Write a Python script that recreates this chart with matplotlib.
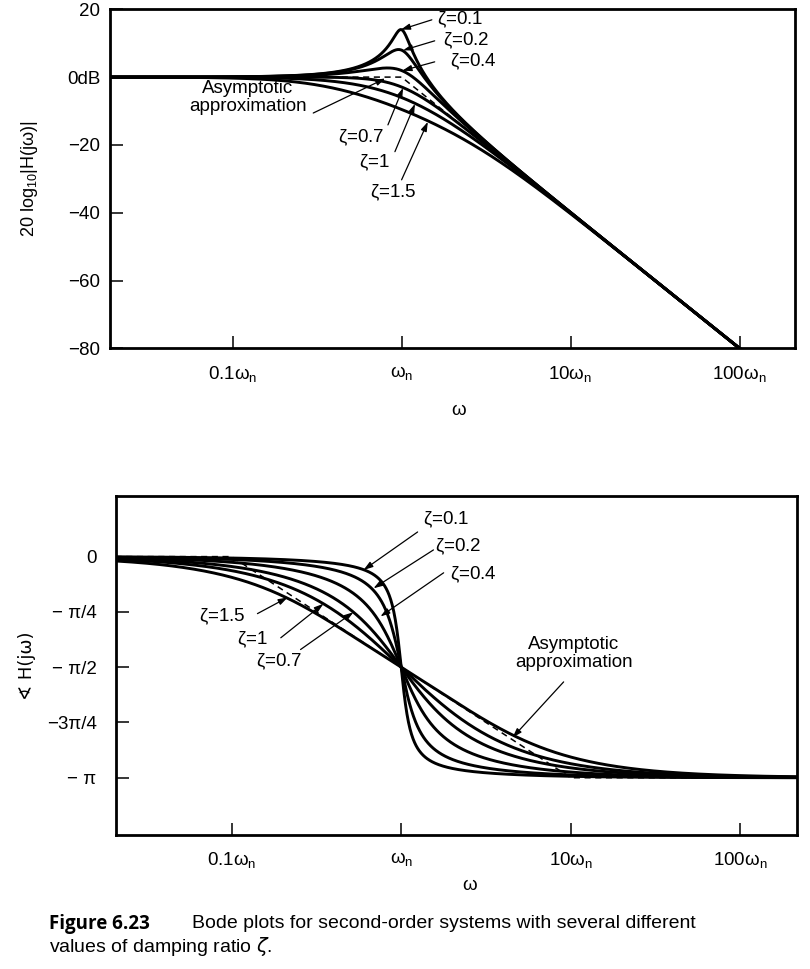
import numpy as np
from matplotlib import pyplot as plt

# damping ratios and labels
zetas = [0.1, 0.2, 0.4, 0.7, 1.0, 1.5]
zeta_labels = [r'$\zeta$=0.1', r'$\zeta$=0.2', r'$\zeta$=0.4',
               r'$\zeta$=0.7', r'$\zeta$=1', r'$\zeta$=1.5']

# straight-line approximations (break points)
asym_mag_w = [0.01, 1.0, 1000.0]
asym_mag_db = [0.0, 0.0, -120.0]
asym_ph_w = [0.01, 0.1, 10.0, 1000.0]
asym_ph = [0.0, 0.0, -np.pi, -np.pi]

xticks = [0.1, 1, 10, 100]
xtick_labels = [r'0.1$\omega_n$', r'$\omega_n$', r'10$\omega_n$', r'100$\omega_n$']
mag_ticks = [20, 0, -20, -40, -60, -80]
mag_tick_labels = ['20', '0dB', '\u221220', '\u221240', '\u221260', '\u221280']
ph_ticks = [0, -np.pi / 4, -np.pi / 2, -3 * np.pi / 4, -np.pi]
ph_tick_labels = ['0', '\u2212 \u03c0/4', '\u2212 \u03c0/2', '\u22123\u03c0/4', '\u2212 \u03c0']

# annotation positions (omega/omega_n, value)
mag_text = [(1.62, 16.9), (1.75, 10.8), (1.93, 4.5), (0.574, -17.9), (0.687, -25.3), (0.889, -34.2)]
mag_text_ha = ['left', 'left', 'left', 'center', 'center', 'center']
mag_arrow_from = [(1.51, 16.9), (1.57, 10.7), (1.57, 4.5), (0.83, -14.1), (0.913, -22.0), (1.0, -30.3)]
mag_arrow_to = [(0.99, 14.0), (1.02, 7.9), (1.01, 1.9), (1.02, -3.2), (1.2, -7.9), (1.43, -13.2)]
mag_asym_text = (0.123, -6.0)
mag_asym_from = (0.30, -10.6)
mag_asym_to = (0.80, -0.4)

ph_text = [(1.354, 0.52), (1.59, 0.137), (1.95, -0.26), (0.191, -1.493), (0.133, -1.18), (0.0885, -0.855)]
ph_text_ha = ['left', 'left', 'left', 'center', 'center', 'center']
ph_arrow_from = [(1.25, 0.35), (1.55, 0.095), (1.78, -0.23), (0.255, -1.32), (0.195, -1.153), (0.142, -0.81)]
ph_arrow_to = [(0.6, -0.19), (0.687, -0.45), (0.755, -0.85), (0.523, -0.79), (0.348, -0.67), (0.214, -0.58)]
ph_asym_text = (10.4, -1.38)
ph_asym_from = (9.08, -1.78)
ph_asym_to = (4.54, -2.57)

plt.rcParams['font.family'] = ['Liberation Sans', 'DejaVu Sans']
plt.rcParams['mathtext.default'] = 'regular'
fs = 13.5

w = np.logspace(-2, np.log10(300), 1500)

fig = plt.figure(figsize=(8.1, 9.69), dpi=100)
ax1 = fig.add_axes([110 / 810, 1 - 348.3 / 969, 685 / 810, 339 / 969])
ax2 = fig.add_axes([116 / 810, 1 - 835 / 969, 681 / 810, 339 / 969])

for z in zetas:
    H = 1.0 / (1 - w ** 2 + 2j * z * w)
    ax1.plot(w, 20 * np.log10(np.abs(H)), c='black', linewidth=2.1)
    ax2.plot(w, np.angle(H) - 2 * np.pi * (np.angle(H) > 0), c='black', linewidth=2.1)

ax1.plot(asym_mag_w, asym_mag_db, c='black', linewidth=1.1, dashes=(4, 3))
ax2.plot(asym_ph_w, asym_ph, c='black', linewidth=1.1, dashes=(4, 3))

for ax in (ax1, ax2):
    ax.set_xscale('log')
    ax.set_xticks(xticks)
    ax.set_xticklabels(xtick_labels, fontsize=fs)
    ax.minorticks_off()
    for s in ax.spines.values():
        s.set_linewidth(2)
    ax.tick_params(direction='in', length=9, width=1.1, top=False, right=False)
    ax.tick_params(axis='x', pad=11)

ax1.set_xlim(0.0188, 213)
ax1.set_ylim(-80, 20)
ax1.set_yticks(mag_ticks)
ax1.set_yticklabels(mag_tick_labels, fontsize=fs)
ax1.tick_params(axis='y', pad=7)
ax1.set_ylabel(r'20 log$_{10}$|H(j$\omega$)|', fontsize=13)
ax1.yaxis.set_label_coords(-0.102, 0.5)
ax1.set_xlabel(r'$\omega$', fontsize=fs)
ax1.xaxis.set_label_coords(0.51, -0.158)

ax2.set_xlim(0.0208, 216)
ax2.set_ylim(-3.955, 0.861)
ax2.set_yticks(ph_ticks)
ax2.set_yticklabels(ph_tick_labels, fontsize=fs)
ax2.tick_params(axis='y', pad=14)
ax2.set_ylabel('\u2222 H(j\u03c9)', fontsize=13, family=['DejaVu Sans'])
ax2.yaxis.set_label_coords(-0.117, 0.5)
ax2.set_xlabel(r'$\omega$', fontsize=fs)
ax2.xaxis.set_label_coords(0.52, -0.124)

arrow = dict(arrowstyle='-|>,head_length=0.55,head_width=0.18', color='black', lw=0.9, shrinkA=0, shrinkB=0)

for i, lab in enumerate(zeta_labels):
    ax1.text(mag_text[i][0], mag_text[i][1], lab, ha=mag_text_ha[i], va='center', fontsize=fs)
    ax1.annotate('', xy=mag_arrow_to[i], xytext=mag_arrow_from[i], arrowprops=arrow)
    ax2.text(ph_text[i][0], ph_text[i][1], lab, ha=ph_text_ha[i], va='center', fontsize=fs)
    ax2.annotate('', xy=ph_arrow_to[i], xytext=ph_arrow_from[i], arrowprops=arrow)

ax1.text(mag_asym_text[0], mag_asym_text[1], 'Asymptotic\napproximation', ha='center', va='center',
         fontsize=fs, linespacing=1.05)
ax1.annotate('', xy=mag_asym_to, xytext=mag_asym_from, arrowprops=arrow)
ax2.text(ph_asym_text[0], ph_asym_text[1], 'Asymptotic\napproximation', ha='center', va='center',
         fontsize=fs, linespacing=1.05)
ax2.annotate('', xy=ph_asym_to, xytext=ph_asym_from, arrowprops=arrow)

fig.text(49 / 810, 1 - 924 / 969, 'Figure 6.23', fontsize=13.5, fontweight='bold', va='center',
         family=['Open Sans', 'Liberation Sans'])
fig.text(192 / 810, 1 - 924 / 969, 'Bode plots for second-order systems with several different',
         fontsize=14, va='center')
fig.text(49 / 810, 1 - 946 / 969, r'values of damping ratio $\mathit{\zeta}$.',
         fontsize=14, va='center')

fig.savefig('out.png', dpi=100)
